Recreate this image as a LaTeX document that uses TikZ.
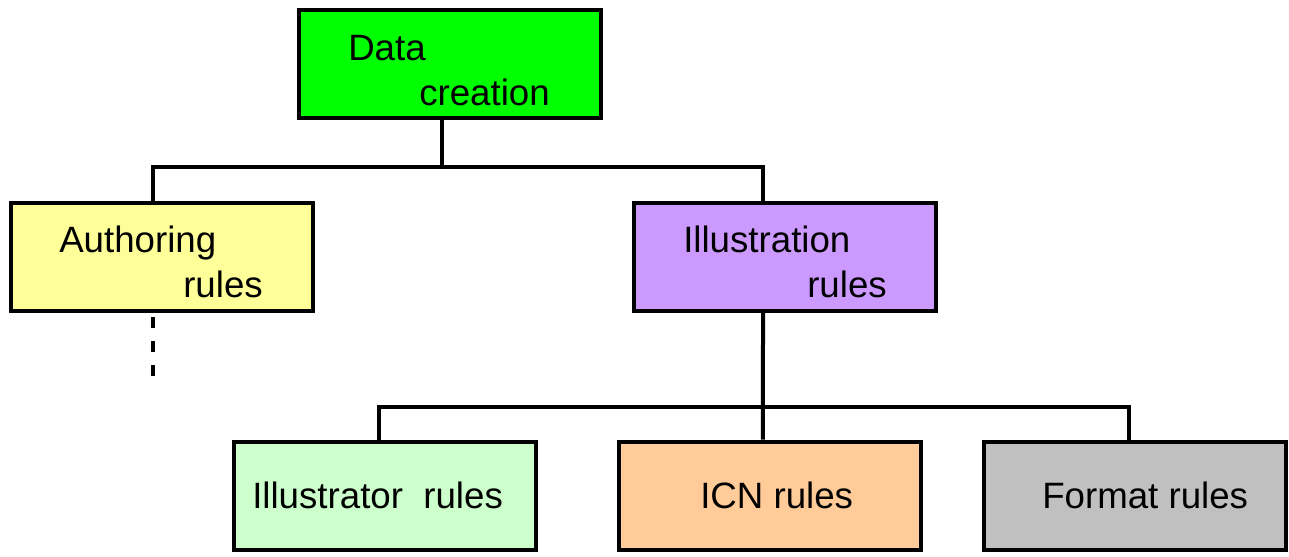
\documentclass[tikz,border=0pt]{standalone}
\usepackage{fontspec}
\setmainfont{Liberation Sans}
\begin{document}
\begin{tikzpicture}[x=0.75pt,y=-0.75pt,
  box/.style={draw=black, line width=3pt, minimum width=226.5pt, minimum height=81pt, inner sep=0pt},
  conn/.style={draw=black, line width=3pt},
  txt/.style={anchor=base west, inner sep=0pt, font=\fontsize{27.5}{33}\selectfont}]
\useasboundingbox (0,0) rectangle (1289,557);
\definecolor{cgreen}{HTML}{00FF00}
\definecolor{cyellow}{HTML}{FFFF99}
\definecolor{cpurple}{HTML}{CC99FF}
\definecolor{clgreen}{HTML}{CCFFCC}
\definecolor{corange}{HTML}{FFCC99}
\definecolor{cgray}{HTML}{C0C0C0}
% boxes
\node[box, fill=cgreen] (dc) at (450,64) {};
\node[box, fill=cyellow] (au) at (162,256.5) {};
\node[box, fill=cpurple] (il) at (785,256.5) {};
\node[box, fill=clgreen] (ir) at (385,495.5) {};
\node[box, fill=corange] (icn) at (769.5,495.5) {};
\node[box, fill=cgray] (fr) at (1135,495.5) {};
% texts
\node[txt] (t1) at (348,60) {Data};
\node[txt] (t2) at (419,105) {creation};
\node[txt] (t3) at (59,252) {Authoring};
\node[txt] (t4) at (183,297) {rules};
\node[txt] (t5) at (683,252) {Illustration};
\node[txt] (t6) at (807,297) {rules};
\node[txt] (t7) at (252,508) {Illustrator\ \ rules};
\node[txt] (t8) at (700,508) {ICN rules};
\node[txt] (t9) at (1042,508) {Format rules};
% connectors
\coordinate (b1) at (442,167);
\coordinate (b2) at (763,407);
\draw[conn] ([xshift=-6pt]dc.south) -- (b1);
\draw[conn] ([xshift=-6.75pt]au.north) |- (b1) -| ([xshift=-16.5pt]il.north);
\draw[conn] ([xshift=-16.5pt]il.south) -- ([xshift=-4.9pt]icn.north);
\draw[conn] ([xshift=-4.5pt]ir.north) |- (b2) -| ([xshift=-4.5pt]fr.north);
\coordinate (dend) at (153,377);
\draw[conn, dash pattern=on 8.25pt off 10pt] ([xshift=-6.75pt,yshift=-3pt]au.south) -- (dend);
\end{tikzpicture}
\end{document}
